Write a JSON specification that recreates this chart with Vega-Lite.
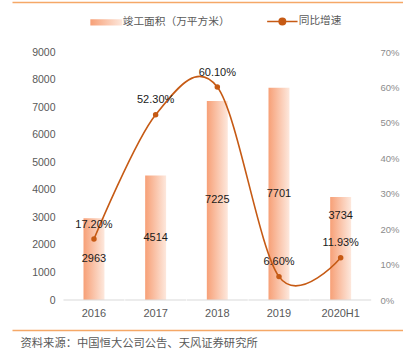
{
  "$schema": "https://vega.github.io/schema/vega-lite/v6.json",
  "autosize": {"type": "none"},
  "width": 391,
  "height": 248,
  "padding": {"left": 12, "top": 52, "right": 0, "bottom": 60},
  "background": "white",
  "config": {
    "view": {"stroke": null},
    "font": "Liberation Sans, Noto Sans CJK SC",
    "text": {"font": "Liberation Sans, Noto Sans CJK SC"}
  },
  "data": {
    "values": [
      {"year": "2016", "area": 2963, "growth": 0.172},
      {"year": "2017", "area": 4514, "growth": 0.523},
      {"year": "2018", "area": 7225, "growth": 0.601},
      {"year": "2019", "area": 7701, "growth": 0.066},
      {"year": "2020H1", "area": 3734, "growth": 0.1193}
    ]
  },
  "encoding": {
    "x": {
      "field": "year",
      "type": "nominal",
      "sort": null,
      "scale": {"paddingInner": 0.66, "paddingOuter": 1.0455, "align": 0.5796},
      "axis": {
        "title": "资料来源：中国恒大公司公告、天风证券研究所",
        "titleFont": "Noto Sans CJK SC",
        "titleFontSize": 11.3,
        "titleFontWeight": "normal",
        "titleColor": "#595959",
        "titleAnchor": "start",
        "titleAlign": "left",
        "titleBaseline": "top",
        "titleX": 8,
        "titleY": 37,
        "domain": false,
        "ticks": false,
        "labelAngle": 0,
        "labelPadding": 7,
        "labelFontSize": 11,
        "labelColor": "#595959",
        "labelFont": "Liberation Sans"
      }
    }
  },
  "layer": [
    {
      "mark": {"type": "point", "opacity": 0},
      "encoding": {
        "y": {
          "datum": 0,
          "type": "quantitative",
          "scale": {"domain": [0, 1], "range": [278, -50], "nice": false, "zero": false},
          "axis": {
            "orient": "left",
            "title": null,
            "domain": false,
            "ticks": false,
            "labels": false,
            "values": [0, 1],
            "grid": true,
            "gridWidth": 1.3,
            "gridColor": "#F5A867"
          }
        }
      }
    },
    {
      "mark": {
        "type": "bar",
        "color": {
          "gradient": "linear",
          "x1": 0, "y1": 0, "x2": 1, "y2": 0,
          "stops": [
            {"offset": 0, "color": "#F7A077"},
            {"offset": 1, "color": "#FDE8DD"}
          ]
        }
      },
      "encoding": {
        "y": {
          "field": "area",
          "type": "quantitative",
          "scale": {"domain": [0, 9000], "nice": false},
          "axis": {
            "orient": "left",
            "offset": -54,
            "title": null,
            "domain": false,
            "ticks": false,
            "grid": false,
            "format": "d",
            "labelPadding": 11,
            "labelFontSize": 10.5,
            "labelColor": "#595959",
            "labelFont": "Liberation Sans",
            "values": [0, 1000, 2000, 3000, 4000, 5000, 6000, 7000, 8000, 9000]
          }
        }
      }
    },
    {
      "mark": {"type": "tick", "orient": "horizontal", "size": 61, "thickness": 1.5, "color": "#DCDCDC"},
      "encoding": {
        "y": {"datum": 0, "type": "quantitative", "scale": {"domain": [0, 9000], "nice": false}, "axis": null}
      }
    },
    {
      "transform": [{"filter": "datum.year !== '2020H1'"}],
      "mark": {"type": "text", "baseline": "middle", "fontSize": 11, "color": "#1a1a1a", "font": "Liberation Sans"},
      "encoding": {
        "y": {"field": "area", "type": "quantitative", "scale": {"domain": [0, 18000], "nice": false}, "axis": null},
        "text": {"field": "area", "type": "quantitative", "format": "d"}
      }
    },
    {
      "transform": [{"filter": "datum.year === '2020H1'"}],
      "mark": {"type": "text", "baseline": "middle", "dy": -33, "fontSize": 11, "color": "#1a1a1a", "font": "Liberation Sans"},
      "encoding": {
        "y": {"field": "area", "type": "quantitative", "scale": {"domain": [0, 18000], "nice": false}, "axis": null},
        "text": {"field": "area", "type": "quantitative", "format": "d"}
      }
    },
    {
      "mark": {"type": "line", "interpolate": "cardinal", "strokeWidth": 1.6},
      "encoding": {
        "y": {
          "field": "growth",
          "type": "quantitative",
          "scale": {"domain": [0, 0.7], "nice": false},
          "axis": {
            "orient": "right",
            "offset": -33,
            "title": null,
            "domain": false,
            "ticks": false,
            "grid": false,
            "format": ".0%",
            "values": [0, 0.1, 0.2, 0.3, 0.4, 0.5, 0.6, 0.7],
            "labelPadding": 10,
            "labelFontSize": 9.5,
            "labelColor": "#8C8C8C",
            "labelFont": "Liberation Sans"
          }
        },
        "color": {
          "datum": "同比增速",
          "type": "nominal",
          "scale": {
            "domain": ["竣工面积（万平方米）", "同比增速"],
            "range": ["#F7A077", "#C65A14"]
          },
          "legend": {
            "orient": "none",
            "direction": "horizontal",
            "legendX": 89,
            "legendY": -36,
            "title": null,
            "padding": 0,
            "symbolSize": 256,
            "labelOffset": 11,
            "columnPadding": 33,
            "labelFontSize": 10.7,
            "labelColor": "#595959",
            "labelFont": "Noto Sans CJK SC",
            "encode": {
              "symbols": {
                "update": {
                  "shape": {"signal": "datum.value === '同比增速' ? 'M-1.9,0H1.9M-0.4,0A0.4,0.4,0,1,1,0.4,0A0.4,0.4,0,1,1,-0.4,0Z' : 'M-2,-0.4H2V0.4H-2Z'"},
                  "fill": {"signal": "datum.value === '同比增速' ? '#C65A14' : {gradient: 'linear', x1: 0, y1: 0, x2: 1, y2: 0, stops: [{offset: 0, color: '#F7A077'}, {offset: 1, color: '#FDE8DD'}]}"},
                  "stroke": {"signal": "datum.value === '同比增速' ? '#C65A14' : 'transparent'"},
                  "strokeWidth": {"signal": "datum.value === '同比增速' ? 1.6 : 0"},
                  "opacity": {"value": 1},
                  "fillOpacity": {"value": 1},
                  "strokeOpacity": {"value": 1}
                }
              }
            }
          }
        }
      }
    },
    {
      "mark": {"type": "point", "filled": true, "size": 30, "color": "#C65A14", "opacity": 1},
      "encoding": {
        "y": {"field": "growth", "type": "quantitative", "scale": {"domain": [0, 0.7], "nice": false}, "axis": null}
      }
    },
    {
      "mark": {"type": "text", "baseline": "middle", "dy": -14.5, "fontSize": 11, "color": "#1a1a1a", "font": "Liberation Sans"},
      "encoding": {
        "y": {"field": "growth", "type": "quantitative", "scale": {"domain": [0, 0.7], "nice": false}, "axis": null},
        "text": {"field": "growth", "type": "quantitative", "format": ".2%"}
      }
    }
  ],
  "resolve": {"scale": {"y": "independent"}, "axis": {"y": "independent"}}
}
